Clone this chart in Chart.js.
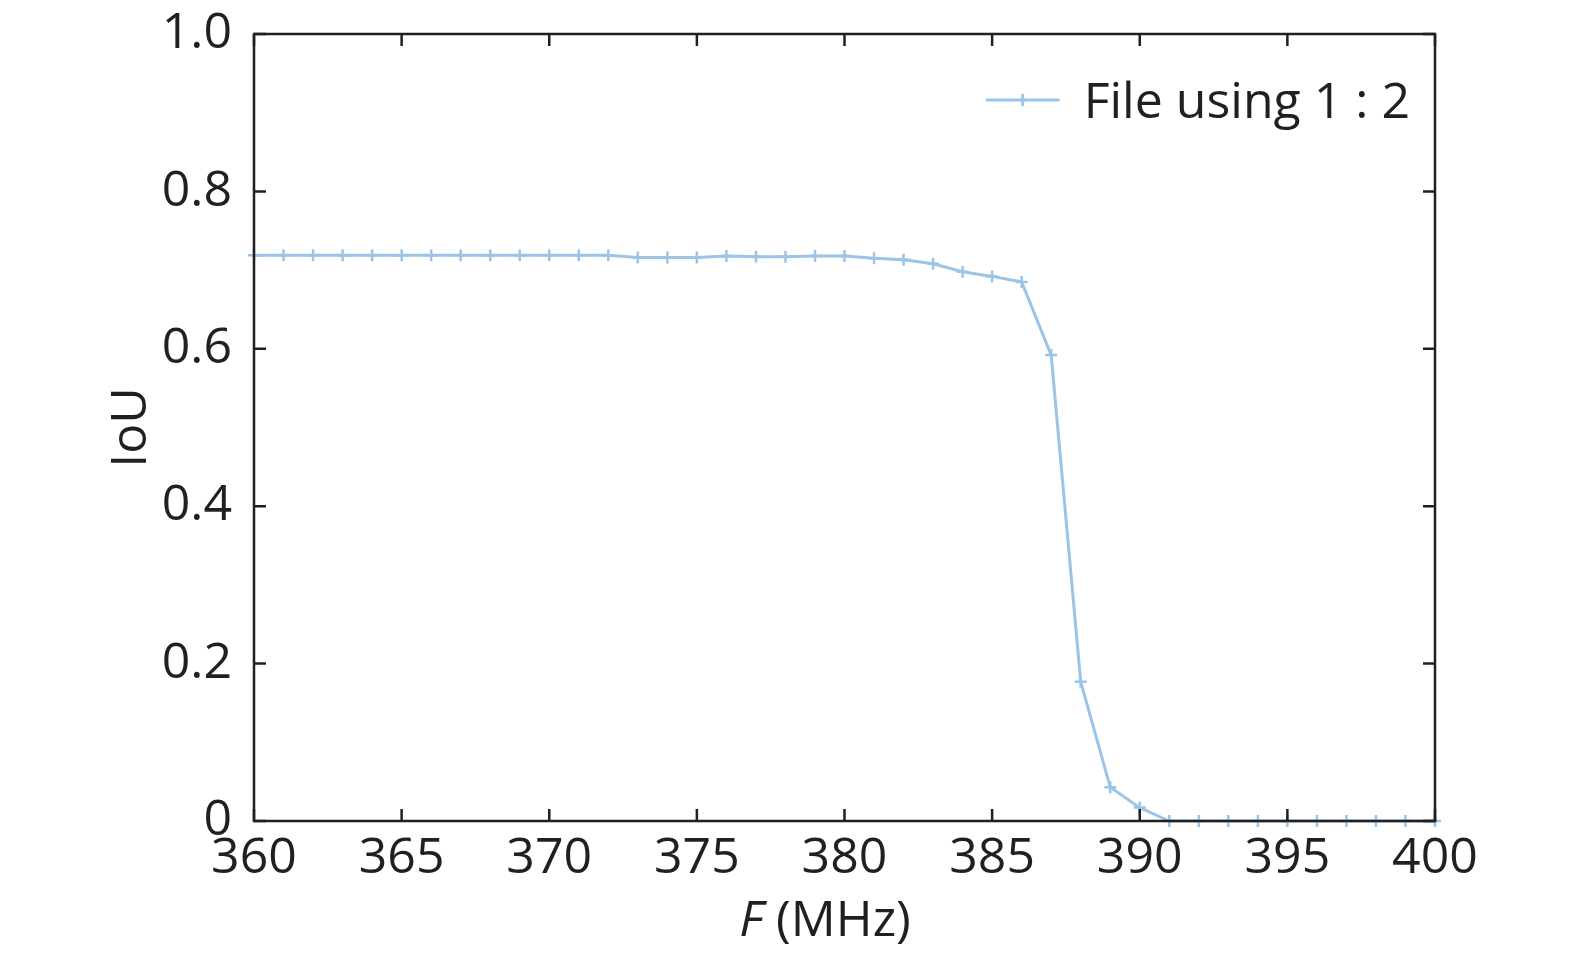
<!DOCTYPE html>
<html>
<head>
<meta charset="utf-8">
<title>IoU vs F</title>
<script src="https://cdn.jsdelivr.net/npm/chart.js@4.4.1/dist/chart.umd.min.js"></script>
<style>
    html, body {
        margin: 0;
        padding: 0;
        background: #ffffff;
    }

    #chartBox {
        position: relative;
        width: 1575px;
        height: 957px;
    }
</style>
</head>
<body>
<div id="chartBox">
    <canvas id="iouChart" width="1575" height="957"></canvas>
</div>

<script>
// values
const frequencies = [
    360, 361, 362, 363, 364, 365, 366, 367, 368, 369,
    370, 371, 372, 373, 374, 375, 376, 377, 378, 379,
    380, 381, 382, 383, 384, 385, 386, 387, 388, 389,
    390, 391, 392, 393, 394, 395, 396, 397, 398, 399, 400
];

const iouValues = [
    0.719, 0.719, 0.719, 0.719, 0.719, 0.719, 0.719, 0.719, 0.719, 0.719,
    0.719, 0.719, 0.719, 0.716, 0.716, 0.716, 0.718, 0.717, 0.717, 0.718,
    0.718, 0.715, 0.713, 0.708, 0.698, 0.692, 0.685, 0.592, 0.177, 0.043,
    0.017, 0.000, 0.000, 0.000, 0.000, 0.000, 0.000, 0.000, 0.000, 0.000, 0.000
];

const xTickValues = [360, 365, 370, 375, 380, 385, 390, 395, 400];
const yTickValues = [0, 0.2, 0.4, 0.6, 0.8, 1.0];

const seriesLabel = "File using 1 : 2";
const xTitle = "(MHz)";
const xTitleSymbol = "F";
const yTitle = "IoU";


const FONT = "'Open Sans', 'DejaVu Sans', sans-serif";
const INK = "#231f20";
const LINE_BLUE = "#9bc4e8";


// inward ticks on all four sides, plus axis titles and legend
const framePlugin = {
    id: "frame",

    afterDraw: function (chart) {
        const ctx = chart.ctx;
        const area = chart.chartArea;
        const xScale = chart.scales.x;
        const yScale = chart.scales.y;
        const tickLen = 12;

        ctx.save();
        ctx.strokeStyle = INK;
        ctx.lineWidth = 2.5;

        ctx.strokeRect(area.left, area.top, area.right - area.left, area.bottom - area.top);

        ctx.beginPath();
        xTickValues.forEach(function (value) {
            const px = xScale.getPixelForValue(value);
            ctx.moveTo(px, area.bottom);
            ctx.lineTo(px, area.bottom - tickLen);
            ctx.moveTo(px, area.top);
            ctx.lineTo(px, area.top + tickLen);
        });
        yTickValues.forEach(function (value) {
            const py = yScale.getPixelForValue(value);
            ctx.moveTo(area.left, py);
            ctx.lineTo(area.left + tickLen, py);
            ctx.moveTo(area.right, py);
            ctx.lineTo(area.right - tickLen, py);
        });
        ctx.stroke();

        // x title: italic symbol then unit
        ctx.fillStyle = INK;
        ctx.textBaseline = "alphabetic";
        ctx.font = "italic 50px " + FONT;
        const symbolWidth = ctx.measureText(xTitleSymbol + " ").width;
        ctx.font = "50px " + FONT;
        const unitWidth = ctx.measureText(xTitle).width;
        const titleLeft = 825 - (symbolWidth + unitWidth) / 2;
        ctx.font = "italic 50px " + FONT;
        ctx.textAlign = "left";
        ctx.fillText(xTitleSymbol, titleLeft, 936);
        ctx.font = "50px " + FONT;
        ctx.fillText(xTitle, titleLeft + symbolWidth, 936);

        // y title rotated
        ctx.save();
        ctx.translate(146, (area.top + area.bottom) / 2);
        ctx.rotate(-Math.PI / 2);
        ctx.textAlign = "center";
        ctx.fillText(yTitle, 0, 0);
        ctx.restore();

        // legend in the top right corner
        ctx.font = "50px " + FONT;
        ctx.textAlign = "right";
        ctx.fillText(seriesLabel, 1410, 118);

        const labelLeft = 1410 - ctx.measureText(seriesLabel).width;
        const sampleRight = labelLeft - 24;
        const sampleLeft = sampleRight - 74;
        const sampleY = 100;

        ctx.strokeStyle = LINE_BLUE;
        ctx.lineWidth = 3;
        ctx.beginPath();
        ctx.moveTo(sampleLeft, sampleY);
        ctx.lineTo(sampleRight, sampleY);
        ctx.moveTo((sampleLeft + sampleRight) / 2, sampleY - 6);
        ctx.lineTo((sampleLeft + sampleRight) / 2, sampleY + 6);
        ctx.stroke();

        ctx.restore();
    }
};


function buildPoints() {
    return frequencies.map(function (f, i) {
        return { x: f, y: iouValues[i] };
    });
}


document.addEventListener("DOMContentLoaded", function () {
    const canvas = document.getElementById("iouChart");

    new Chart(canvas, {
        type: "line",

        data: {
            datasets: [
                {
                    label: seriesLabel,
                    data: buildPoints(),
                    borderColor: LINE_BLUE,
                    borderWidth: 3,
                    pointStyle: "cross",
                    pointRadius: 6,
                    pointBorderWidth: 2.5,
                    pointBorderColor: LINE_BLUE,
                    pointBackgroundColor: LINE_BLUE,
                    tension: 0,
                    clip: false
                }
            ]
        },

        options: {
            responsive: false,
            animation: false,
            devicePixelRatio: 1,
            layout: {
                padding: { left: 0, right: 140, top: 34, bottom: 0 }
            },

            plugins: {
                legend: { display: false },
                tooltip: { enabled: false }
            },

            scales: {
                x: {
                    type: "linear",
                    min: 360,
                    max: 400,
                    border: { display: false },
                    grid: { display: false, drawTicks: false },
                    afterBuildTicks: function (scale) {
                        scale.ticks = xTickValues.map(function (v) {
                            return { value: v };
                        });
                    },
                    afterFit: function (scale) {
                        scale.height = 957 - 34 - 787;
                        scale.paddingLeft = 0;
                        scale.paddingRight = 0;
                    },
                    ticks: {
                        color: INK,
                        font: { family: FONT, size: 50 },
                        padding: 8,
                        maxRotation: 0,
                        autoSkip: false
                    }
                },

                y: {
                    min: 0,
                    max: 1,
                    border: { display: false },
                    grid: { display: false, drawTicks: false },
                    afterBuildTicks: function (scale) {
                        scale.ticks = yTickValues.map(function (v) {
                            return { value: v };
                        });
                    },
                    afterFit: function (scale) {
                        scale.width = 254;
                        scale.paddingTop = 0;
                        scale.paddingBottom = 0;
                    },
                    ticks: {
                        color: INK,
                        font: { family: FONT, size: 50 },
                        padding: 22,
                        callback: function (value) {
                            if (value === 0) {
                                return "0";
                            }
                            return Number(value).toFixed(1);
                        }
                    }
                }
            }
        },

        plugins: [framePlugin]
    });
});
</script>
</body>
</html>
